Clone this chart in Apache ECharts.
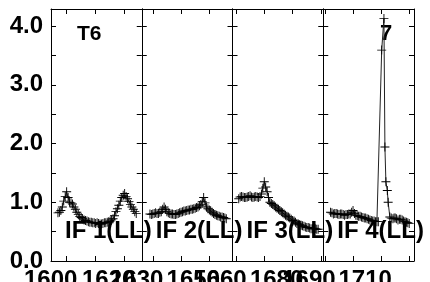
<!DOCTYPE html>
<html>
<head>
<meta charset="utf-8">
<script src="https://cdn.jsdelivr.net/npm/echarts@6/dist/echarts.min.js"></script>
<style>
  html, body { margin: 0; padding: 0; background: #fff; }
  #chart { width: 430px; height: 282px; }
</style>
</head>
<body>
<div id="chart"></div>
<script>
// frequency (x) and amplitude (y) for each IF window
const if1Freq = [1597, 1597.5, 1598, 1598.5, 1599, 1599.5, 1600, 1600.5, 1601, 1601.5, 1602, 1602.5,
  1603, 1603.5, 1604, 1604.5, 1605, 1605.5, 1606, 1606.5, 1607, 1607.5, 1608, 1608.5, 1609, 1609.5,
  1610, 1610.5, 1611, 1611.5, 1612, 1612.5, 1613, 1613.5, 1614, 1614.5, 1615, 1615.5, 1616, 1616.5,
  1617, 1617.5, 1618, 1618.5, 1619, 1619.5, 1620, 1620.5, 1621, 1621.5, 1622, 1622.5, 1623, 1623.5, 1624];
const if1Amp = [0.82, 0.83, 0.86, 0.92, 1.02, 1.10, 1.18, 1.08, 1.00, 0.99, 0.97, 0.92,
  0.88, 0.83, 0.79, 0.76, 0.74, 0.72, 0.70, 0.69, 0.68, 0.67, 0.66, 0.66, 0.65, 0.65,
  0.64, 0.65, 0.64, 0.63, 0.63, 0.64, 0.65, 0.65, 0.66, 0.67, 0.68, 0.70, 0.72, 0.77,
  0.84, 0.89, 0.95, 1.02, 1.08, 1.12, 1.15, 1.10, 1.06, 1.01, 0.96, 0.92, 0.88, 0.84, 0.81];

const if2Freq = [1629, 1629.5, 1630, 1630.5, 1631, 1631.5, 1632, 1632.5, 1633, 1633.5, 1634, 1634.5,
  1635, 1635.5, 1636, 1636.5, 1637, 1637.5, 1638, 1638.5, 1639, 1639.5, 1640, 1640.5, 1641, 1641.5,
  1642, 1642.5, 1643, 1643.5, 1644, 1644.5, 1645, 1645.5, 1646, 1646.5, 1647, 1647.5, 1648, 1648.5,
  1649, 1649.5, 1650, 1650.5, 1651, 1651.5, 1652, 1652.5, 1653, 1653.5, 1654, 1654.5, 1655, 1655.5, 1656];
const if2Amp = [0.80, 0.79, 0.80, 0.81, 0.82, 0.81, 0.81, 0.83, 0.84, 0.88, 0.92, 0.88,
  0.84, 0.82, 0.81, 0.80, 0.80, 0.79, 0.79, 0.80, 0.81, 0.82, 0.83, 0.84, 0.85, 0.85,
  0.86, 0.87, 0.87, 0.88, 0.88, 0.89, 0.90, 0.91, 0.92, 0.94, 0.96, 1.01, 1.08, 0.99,
  0.92, 0.89, 0.87, 0.85, 0.83, 0.81, 0.79, 0.78, 0.77, 0.76, 0.75, 0.75, 0.74, 0.73, 0.72];

const if3Freq = [1661, 1661.5, 1662, 1662.5, 1663, 1663.5, 1664, 1664.5, 1665, 1665.5, 1666, 1666.5,
  1667, 1667.5, 1668, 1668.5, 1669, 1669.5, 1670, 1670.5, 1671, 1671.5, 1672, 1672.5, 1673, 1673.5,
  1674, 1674.5, 1675, 1675.5, 1676, 1676.5, 1677, 1677.5, 1678, 1678.5, 1679, 1679.5, 1680, 1680.5,
  1681, 1681.5, 1682, 1682.5, 1683, 1683.5, 1684, 1684.5, 1685, 1685.5, 1686, 1686.5, 1687, 1687.5,
  1688, 1688.5, 1689];
const if3Amp = [1.06, 1.09, 1.10, 1.09, 1.08, 1.08, 1.09, 1.10, 1.11, 1.09, 1.08, 1.09,
  1.10, 1.09, 1.08, 1.10, 1.14, 1.24, 1.35, 1.26, 1.18, 1.08, 1.00, 0.98, 0.96, 0.94,
  0.92, 0.90, 0.88, 0.86, 0.84, 0.82, 0.80, 0.78, 0.76, 0.75, 0.73, 0.71, 0.69, 0.68,
  0.66, 0.64, 0.63, 0.62, 0.61, 0.60, 0.59, 0.58, 0.57, 0.57, 0.56, 0.55, 0.55, 0.56,
  0.55, 0.54, 0.54];

const if4Freq = [1692, 1692.5, 1693, 1693.5, 1694, 1694.5, 1695, 1695.5, 1696, 1696.5, 1697, 1697.5,
  1698, 1698.5, 1699, 1699.5, 1700, 1700.5, 1701, 1701.5, 1702, 1702.5, 1703, 1703.5, 1704, 1704.5,
  1705, 1705.5, 1706, 1706.5, 1707, 1707.5, 1708, 1708.5, 1709,
  1710.2, 1711, 1711.35, 1711.7, 1712.2, 1712.5, 1713.1, 1713.6, 1714.2, 1714.6, 1715, 1715.5,
  1716, 1716.5, 1717, 1717.5, 1718, 1718.5, 1719, 1719.5, 1720];
const if4Amp = [0.83, 0.82, 0.80, 0.81, 0.81, 0.80, 0.79, 0.80, 0.80, 0.79, 0.78, 0.79,
  0.79, 0.80, 0.80, 0.83, 0.86, 0.81, 0.78, 0.77, 0.76, 0.76, 0.75, 0.74, 0.73, 0.73,
  0.72, 0.71, 0.70, 0.69, 0.68, 0.68, 0.67, 0.67, 0.67,
  3.59, 4.13, 1.94, 1.35, 1.20, 1.00, 0.75, 0.73, 0.72, 0.73, 0.73, 0.72,
  0.70, 0.71, 0.71, 0.70, 0.68, 0.67, 0.66, 0.65, 0.64];

const panelNames = ['IF 1(LL)', 'IF 2(LL)', 'IF 3(LL)', 'IF 4(LL)'];
const panelRanges = [[1594.6, 1625.9], [1626.1, 1658.2], [1658.8, 1690.8], [1689.4, 1721.7]];
const xTickValues = [[1600, 1610, 1620], [1630, 1640, 1650], [1660, 1670, 1680, 1690], [1690, 1700, 1710, 1720]];
const xLabelValues = [[1600, 1620], [1630, 1650], [1660, 1680], [1690, 1710]];
const yTickValues = [0, 0.5, 1, 1.5, 2, 2.5, 3, 3.5, 4];
const yLabelValues = [0, 1, 2, 3, 4];

const FONT = "'Liberation Sans', Arial, sans-serif";
const PANEL_W = 90.75;
const PLUS = 'path://M0,4.5H10V5.5H0Z M4.5,0H5.5V10H4.5Z';

const freqs = [if1Freq, if2Freq, if3Freq, if4Freq];
const amps = [if1Amp, if2Amp, if3Amp, if4Amp];

// x labels sit ~16px left of their ticks, as in the original
const xLabelRich = {
  a: { fontSize: 24, fontWeight: 'bold', fontFamily: FONT, color: '#000', padding: [0, 32, 0, 0] }
};

const lineStyle = { color: '#000', width: 1 };
const grids = [], xAxes = [], yAxes = [], series = [], texts = [];

for (let i = 0; i < 4; i++) {
  grids.push({ left: 51 + i * PANEL_W, top: 9, width: PANEL_W, height: 252, outerBoundsMode: 'none' });

  ['bottom', 'top'].forEach(function (pos) {
    xAxes.push({
      type: 'value', gridIndex: i, position: pos,
      min: panelRanges[i][0], max: panelRanges[i][1],
      axisLine: { show: true, onZero: false, lineStyle: lineStyle },
      axisTick: { show: true, inside: true, length: 5, customValues: xTickValues[i], lineStyle: lineStyle },
      axisLabel: {
        show: pos === 'bottom', customValues: xLabelValues[i], margin: 7,
        formatter: function (v) { return '{a|' + v + '}'; },
        rich: xLabelRich
      },
      splitLine: { show: false }
    });
  });

  ['left', 'right'].forEach(function (pos) {
    yAxes.push({
      type: 'value', gridIndex: i, position: pos, min: 0, max: 4.29,
      axisLine: { show: true, onZero: false, lineStyle: lineStyle },
      axisTick: { show: true, inside: true, length: 5, customValues: yTickValues, lineStyle: lineStyle },
      axisLabel: {
        show: i === 0 && pos === 'left', customValues: yLabelValues, margin: 8,
        formatter: function (v) { return v.toFixed(1); },
        color: '#000', fontSize: 24, fontWeight: 'bold', fontFamily: FONT
      },
      splitLine: { show: false }
    });
  });

  series.push({
    type: 'line',
    xAxisIndex: 2 * i, yAxisIndex: 2 * i,
    data: freqs[i].map(function (f, k) { return [f, amps[i][k]]; }),
    symbol: PLUS, symbolSize: 9,
    itemStyle: { color: '#000' },
    lineStyle: { color: '#222', width: 1 },
    silent: true
  });

  texts.push({
    type: 'text', z: 0, left: 51 + i * PANEL_W + 14, top: 219,
    style: { text: panelNames[i], font: 'bold 24px ' + FONT, fill: '#000' }
  });
}

texts.push({
  type: 'text', z: 0, left: 77, top: 24,
  style: { text: 'T6', font: 'bold 21px ' + FONT, fill: '#000' }
});
texts.push({
  type: 'text', z: 0, left: 380, top: 23,
  style: { text: '7', font: 'bold 22px ' + FONT, fill: '#000' }
});

const mychart = echarts.init(document.getElementById('chart'));
mychart.setOption({
  animation: false,
  backgroundColor: '#fff',
  grid: grids,
  xAxis: xAxes,
  yAxis: yAxes,
  series: series,
  graphic: texts
});
</script>
</body>
</html>
